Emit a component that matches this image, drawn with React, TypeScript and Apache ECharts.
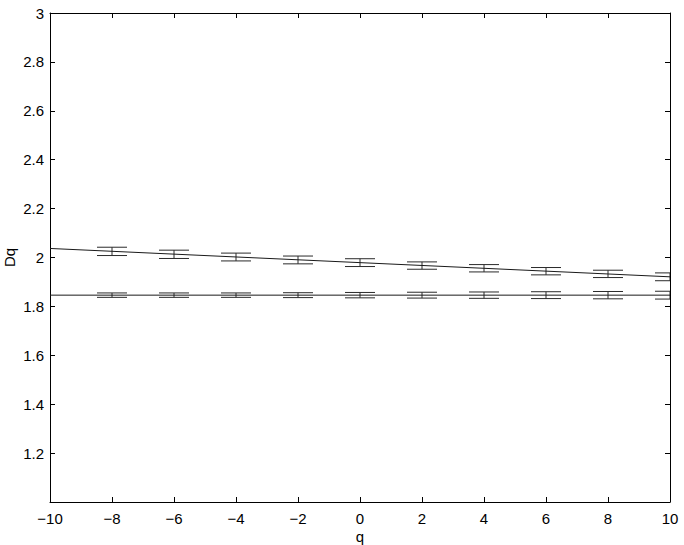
import React, { useEffect, useRef } from "react";
import * as echarts from "echarts";

const qValues = [-8, -6, -4, -2, 0, 2, 4, 6, 8, 10];
const upperMeans = [2.025, 2.013, 2.002, 1.99, 1.979, 1.967, 1.956, 1.944, 1.933, 1.921];
const upperErrs = [0.017, 0.017, 0.016, 0.016, 0.016, 0.015, 0.015, 0.015, 0.015, 0.016];
const lowerMeans = [1.846, 1.846, 1.846, 1.846, 1.846, 1.846, 1.846, 1.846, 1.846, 1.846];
const lowerErrs = [0.009, 0.009, 0.009, 0.01, 0.011, 0.012, 0.013, 0.014, 0.015, 0.016];
const upperFit = [[-10, 2.037], [10, 1.921]];
const lowerFit = [[-10, 1.846], [10, 1.846]];

const FONT = "Liberation Sans";

function errorSeries(means: number[], errs: number[]) {
  return {
    type: "custom",
    data: qValues.map((q, i) => [q, means[i], errs[i]]),
    encode: { x: 0, y: 1 },
    clip: true,
    silent: true,
    renderItem: (params: any, api: any) => {
      const x = api.value(0);
      const y = api.value(1);
      const e = api.value(2);
      const top = api.coord([x, y + e]);
      const bot = api.coord([x, y - e]);
      const hw = 15;
      const style = { stroke: "#2a2a2a", lineWidth: 1 };
      return {
        type: "group",
        children: [
          { type: "line", shape: { x1: top[0], y1: top[1], x2: bot[0], y2: bot[1] }, style },
          { type: "line", shape: { x1: top[0] - hw, y1: top[1], x2: top[0] + hw, y2: top[1] }, style },
          { type: "line", shape: { x1: bot[0] - hw, y1: bot[1], x2: bot[0] + hw, y2: bot[1] }, style },
        ],
      };
    },
  };
}

export default function App() {
  const ref = useRef<HTMLDivElement>(null);
  useEffect(() => {
    if (!ref.current) return;
    const chart = echarts.init(ref.current, undefined, { renderer: "svg" });
    const axisLine = { show: true, onZero: false, lineStyle: { color: "#000", width: 1 } };
    const tickStyle = { show: true, inside: true, length: 5, lineStyle: { color: "#000", width: 1 } };
    const xFmt = (v: number) => (v < 0 ? "\u2212" + Math.abs(v) : String(v));
    const yFmt = (v: number) => (Math.abs(v - 1) < 1e-9 ? "" : String(+v.toFixed(1)));
    chart.setOption({
      animation: false,
      backgroundColor: "#fff",
      grid: { left: 50, right: 14, top: 13, bottom: 43, containLabel: false, outerBoundsMode: "none" },
      xAxis: [
        {
          type: "value", min: -10, max: 10, interval: 2,
          name: "q", nameLocation: "middle", nameGap: 27, nameMoveOverlap: false,
          nameTextStyle: { fontFamily: FONT, fontSize: 15, color: "#000" },
          axisLine, axisTick: tickStyle, splitLine: { show: false },
          axisLabel: { formatter: xFmt, fontFamily: FONT, fontSize: 15, color: "#000", margin: 9 },
        },
        {
          type: "value", min: -10, max: 10, interval: 2, position: "top",
          axisLine, axisTick: tickStyle, splitLine: { show: false }, axisLabel: { show: false },
        },
      ],
      yAxis: [
        {
          type: "value", min: 1, max: 3, interval: 0.2,
          name: "Dq", nameLocation: "middle", nameGap: 33, nameMoveOverlap: false,
          nameTextStyle: { fontFamily: FONT, fontSize: 15, color: "#000" },
          axisLine, axisTick: tickStyle, splitLine: { show: false },
          axisLabel: { formatter: yFmt, fontFamily: FONT, fontSize: 15, color: "#000", margin: 6 },
        },
        {
          type: "value", min: 1, max: 3, interval: 0.2, position: "right",
          axisLine, axisTick: tickStyle, splitLine: { show: false }, axisLabel: { show: false },
        },
      ],
      series: [
        {
          type: "line", data: upperFit, symbol: "none", silent: true,
          lineStyle: { color: "#1a1a1a", width: 1 },
        },
        {
          type: "line", data: lowerFit, symbol: "none", silent: true,
          lineStyle: { color: "#1a1a1a", width: 1 },
        },
        errorSeries(upperMeans, upperErrs),
        errorSeries(lowerMeans, lowerErrs),
      ],
    });
    return () => chart.dispose();
  }, []);
  return (
    <div
      ref={ref}
      style={{ position: "fixed", left: 0, top: 0, width: 684, height: 545, background: "#fff" }}
    />
  );
}
